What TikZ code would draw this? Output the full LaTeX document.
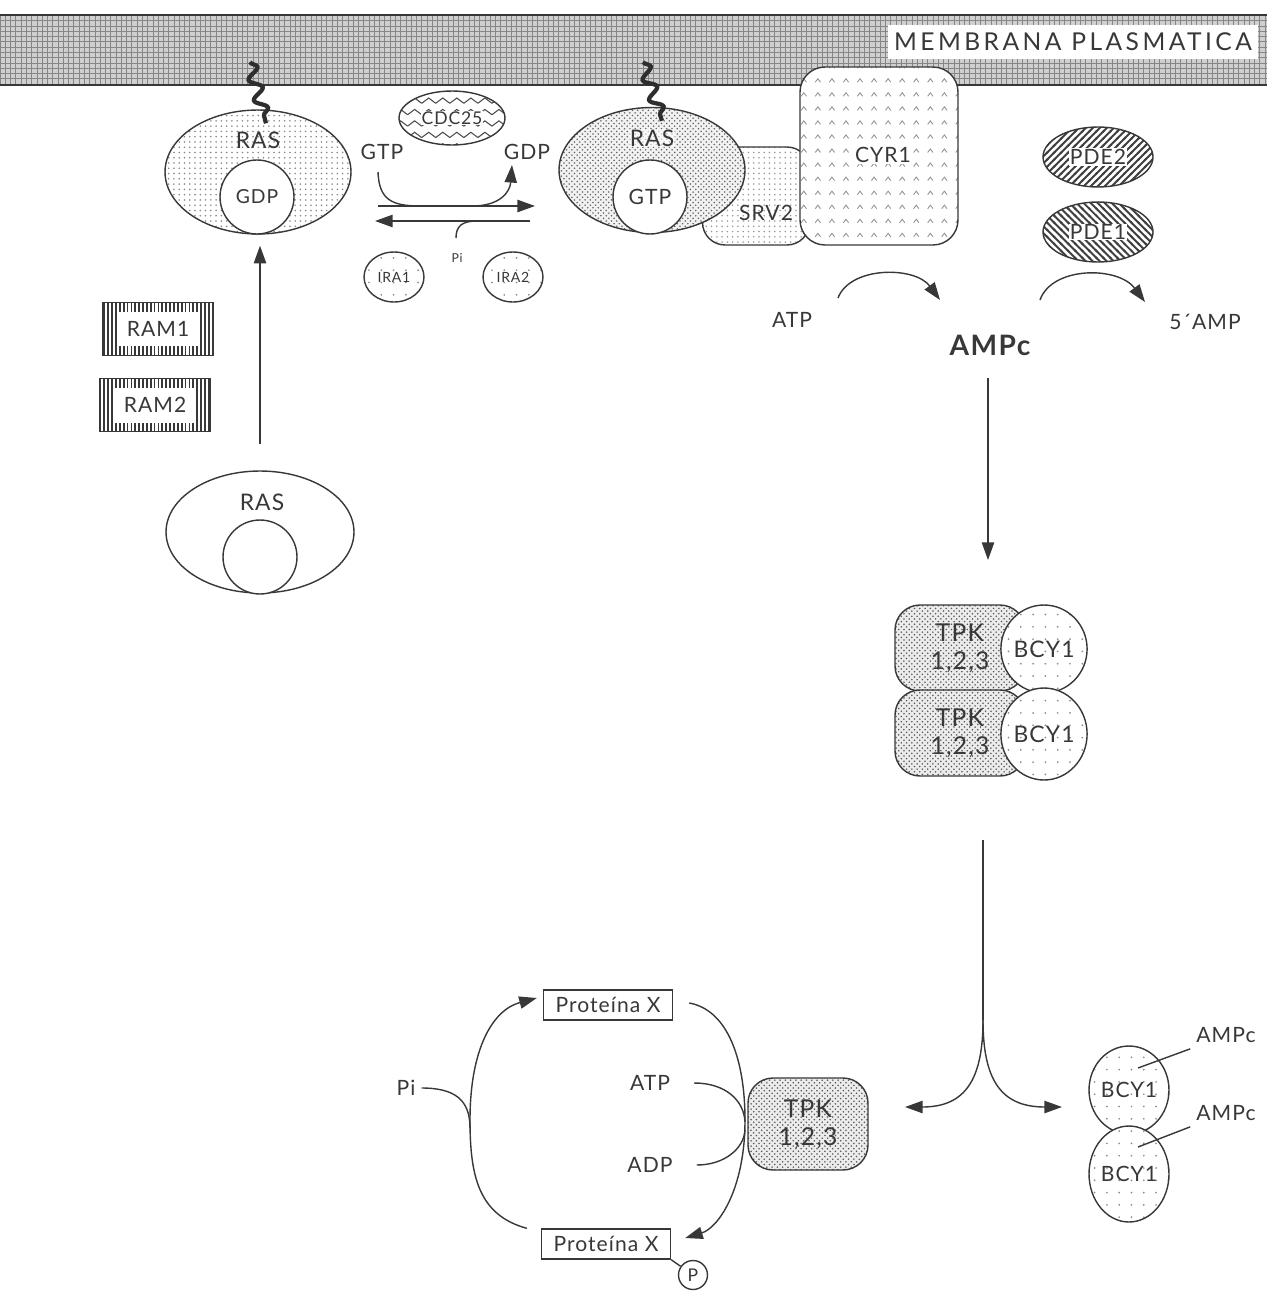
\documentclass[tikz,border=0pt]{standalone}
\usepackage{fontspec}
\setmainfont{Lato}[LetterSpace=5]
\newfontfamily\membfont{Lato}[LetterSpace=14]
\usetikzlibrary{shapes.geometric,arrows.meta,patterns,decorations.pathmorphing,calc}
\colorlet{ink}{black!78}
\pgfdeclarepatternformonly{sparse dots}{\pgfqpoint{-1pt}{-1pt}}{\pgfqpoint{1pt}{1pt}}{\pgfqpoint{7pt}{7pt}}{%
  \pgfpathcircle{\pgfqpoint{0pt}{0pt}}{0.55pt}\pgfusepath{fill}}
\pgfdeclarepatternformonly{carets}{\pgfqpoint{-0.5pt}{-0.5pt}}{\pgfqpoint{3.5pt}{2.5pt}}{\pgfqpoint{8pt}{8pt}}{%
  \pgfsetlinewidth{0.5pt}\pgfpathmoveto{\pgfqpoint{0pt}{0pt}}\pgfpathlineto{\pgfqpoint{1.5pt}{2pt}}%
  \pgfpathlineto{\pgfqpoint{3pt}{0pt}}\pgfusepath{stroke}}
\pgfdeclarepatternformonly{zigzag rows}{\pgfqpoint{-0.5pt}{-0.5pt}}{\pgfqpoint{8.5pt}{3.5pt}}{\pgfqpoint{8pt}{6.5pt}}{%
  \pgfsetlinewidth{0.6pt}\pgfpathmoveto{\pgfqpoint{0pt}{0pt}}\pgfpathlineto{\pgfqpoint{4pt}{3pt}}%
  \pgfpathlineto{\pgfqpoint{8pt}{0pt}}\pgfusepath{stroke}}
\pgfdeclarepatternformonly{hatch ne}{\pgfqpoint{-1pt}{-1pt}}{\pgfqpoint{5pt}{5pt}}{\pgfqpoint{4pt}{4pt}}{%
  \pgfsetlinewidth{1.1pt}\pgfpathmoveto{\pgfqpoint{-0.5pt}{-0.5pt}}\pgfpathlineto{\pgfqpoint{4.5pt}{4.5pt}}\pgfusepath{stroke}}
\pgfdeclarepatternformonly{hatch nw}{\pgfqpoint{-1pt}{-1pt}}{\pgfqpoint{5pt}{5pt}}{\pgfqpoint{4pt}{4pt}}{%
  \pgfsetlinewidth{1.1pt}\pgfpathmoveto{\pgfqpoint{-0.5pt}{4.5pt}}\pgfpathlineto{\pgfqpoint{4.5pt}{-0.5pt}}\pgfusepath{stroke}}
\pgfdeclarepatternformonly{vbars}{\pgfqpoint{-1pt}{-1pt}}{\pgfqpoint{1pt}{3pt}}{\pgfqpoint{2.2pt}{2pt}}{%
  \pgfsetlinewidth{1pt}\pgfpathmoveto{\pgfqpoint{0pt}{-0.5pt}}\pgfpathlineto{\pgfqpoint{0pt}{2.5pt}}\pgfusepath{stroke}}

\begin{document}
\begin{tikzpicture}[x=0.02cm, y=-0.02cm,
    every node/.style={text=ink},
    ln/.style={ink, line width=0.8pt},
    arr/.style={ink, line width=0.8pt, -{Triangle[length=10pt,width=7pt]}},
    fs/.style={font=\fontsize{#1}{#1}\selectfont},
    oval/.style={ellipse, draw=ink, line width=0.8pt, inner sep=0pt},
    box/.style={rectangle, draw=ink, line width=0.8pt, inner sep=0pt},
    core/.style={circle, draw=ink, line width=0.8pt, fill=white, inner sep=0pt, minimum size=1.48cm},
    tail/.style={line width=2.4pt, black!82, decorate, decoration={snake, amplitude=3.4pt, segment length=12pt}},
    tpk/.style={box, rounded corners=0.5cm, minimum width=2.6cm, minimum height=1.72cm, align=center,
        font=\fontsize{14}{16}\selectfont, preaction={fill=gray!15}, pattern=crosshatch dots, pattern color=black!65},
    bcy/.style={oval, minimum width=1.48cm, minimum height=1.76cm, fs=13,
        preaction={fill=white}, pattern=sparse dots, pattern color=gray!90},
    ram/.style={box, minimum width=2.22cm, minimum height=1.06cm, preaction={fill=white}, pattern=vbars, pattern color=ink},
    ramtext/.style={fill=white, minimum width=1.6cm, minimum height=0.7cm, inner sep=0pt, fs=12},
    prot/.style={box, minimum width=2.58cm, minimum height=0.6cm, fs=12}
]
\useasboundingbox (0,0) rectangle (1267,1291);

\path[preaction={fill=gray!38}, pattern=grid, pattern color=gray!95] (0,15) rectangle (1267,85);
\draw[ln] (0,15) -- (1267,15) (0,85) -- (1267,85);
\node[fill=white, minimum width=7.14cm, minimum height=0.7cm, font=\membfont\fontsize{14}{14}\selectfont] (memb) at (1073,42) {MEMBRANA PLASMATICA};

\node[oval, minimum width=3.72cm, minimum height=2.48cm, preaction={fill=white}, pattern=dots, pattern color=gray!95] (rasA) at (258,172) {};
\node[core, fs=11] (gdpA) at (257,197) {GDP};
\node[fs=13] (rasAlbl) at (258,140) {RAS};
\coordinate (anchA) at (250,62);
\draw[tail] (anchA) -- ($(rasA.north)+(8,14)$);

\node[oval, minimum width=2.12cm, minimum height=1.08cm, preaction={fill=white}, pattern=zigzag rows, pattern color=black!70] (cdc) at (452,118) {};
\node[fill=white, fs=10, inner sep=0.5pt] (cdclbl) at (cdc) {CDC25};

\node[fs=12] (gtpL) at (382,152) {GTP};
\node[fs=12] (gdpL) at (527,152) {GDP};
\coordinate (fwdA) at (378,206);
\coordinate (fwdB) at (535,206);
\coordinate (bckA) at (530,221);
\coordinate (bckB) at (375,221);
\coordinate (gtpIn) at (378,172);
\coordinate (gdpOut) at (512,165);
\coordinate (piIn) at (456,238);
\draw[arr] (fwdA) -- (fwdB);
\draw[arr] (bckA) -- (bckB);
\draw[ln] (gtpIn) .. controls (379,200) and (392,206) .. ($(fwdA)!0.27!(fwdB)$);
\draw[arr] ($(fwdA)!0.6!(fwdB)$) .. controls (500,206) and (510,192) .. (gdpOut);
\draw[ln] (piIn) .. controls (456,226) and (462,221) .. ($(bckA)!0.34!(bckB)$);
\node[fs=7] (piA) at (457,258) {Pi};
\node[oval, minimum width=1.2cm, minimum height=1.0cm, fs=8, preaction={fill=white}, pattern=sparse dots, pattern color=gray!90] (ira1) at (394,277) {IRA1};
\node[oval, minimum width=1.2cm, minimum height=1.0cm, fs=8, preaction={fill=white}, pattern=sparse dots, pattern color=gray!90] (ira2) at (513,277) {IRA2};

\node[box, rounded corners=0.45cm, minimum width=2.14cm, minimum height=1.96cm, preaction={fill=white}, pattern=dots, pattern color=gray!80] (srv) at (756,196) {};
\node[fs=12] (srvlbl) at (766,213) {SRV2};
\node[oval, minimum width=3.72cm, minimum height=2.5cm, preaction={fill=gray!10}, pattern=crosshatch dots, pattern color=black!60] (rasB) at (652,170) {};
\node[core, fs=12] (gtpB) at (650,197) {GTP};
\node[fill=white, fill opacity=0.6, text opacity=1, inner sep=0.5pt, fs=13] (rasBlbl) at (652,138) {RAS};
\coordinate (anchB) at (643,62);
\draw[tail] (anchB) -- ($(rasB.north)+(10,14)$);
\node[box, rounded corners=0.5cm, minimum width=3.16cm, minimum height=3.56cm, preaction={fill=white}, pattern=carets, pattern color=gray!85] (cyr) at (879,156) {};
\node[fill=white, fs=12, inner sep=1pt] (cyrlbl) at (883,155) {CYR1};

\node[oval, minimum width=2.2cm, minimum height=1.2cm, preaction={fill=white}, pattern=hatch ne, pattern color=black!75] (pde2) at (1098,157) {};
\node[fill=white, fs=12, inner sep=0.5pt] (pde2lbl) at (pde2) {PDE2};
\node[oval, minimum width=2.2cm, minimum height=1.2cm, preaction={fill=white}, pattern=hatch nw, pattern color=black!75] (pde1) at (1098,232) {};
\node[fill=white, fs=12, inner sep=0.5pt] (pde1lbl) at (pde1) {PDE1};

\node[fs=12] (atpA) at (792,320) {ATP};
\node[font=\bfseries\fontsize{16}{16}\selectfont] (ampc) at (990,345) {AMPc};
\node[fs=12] (amp5) at (1205,322) {5´AMP};
\coordinate (cyrIn) at (838,298);
\coordinate (cyrOut) at (940,300);
\coordinate (pdeIn) at (1040,300);
\coordinate (pdeOut) at (1145,302);
\draw[arr] (cyrIn) .. controls (850,266) and (915,266) .. (cyrOut);
\draw[arr] (pdeIn) .. controls (1052,266) and (1118,266) .. (pdeOut);
\coordinate (ampTop) at (988,378);
\coordinate (ampBot) at (988,560);
\draw[arr] (ampTop) -- (ampBot);

\node[ram] (ram1) at (158,329) {};
\node[ramtext] (ram1lbl) at (ram1) {RAM1};
\node[ram] (ram2) at (155,405) {};
\node[ramtext] (ram2lbl) at (ram2) {RAM2};

\node[oval, minimum width=3.76cm, minimum height=2.44cm, fill=white] (rasC) at (260,532) {};
\node[core] (holeC) at (260,557) {};
\node[fs=13] (rasClbl) at (262,502) {RAS};
\draw[arr, shorten <=0.52cm, shorten >=0.22cm] (rasC.north) -- (rasC.north |- rasA.south);

\node[tpk] (tpkA) at (960,648) {TPK\\1,2,3};
\node[tpk] (tpkB) at (960,733) {TPK\\1,2,3};
\node[bcy] (bcyA) at (1044,649) {BCY1};
\node[bcy, minimum height=1.84cm] (bcyB) at (1044,734) {BCY1};

\coordinate (splitTop) at (983,840);
\coordinate (split) at (983,1020);
\coordinate (toTpk) at (905,1107);
\coordinate (toBcy) at (1062,1107);
\draw[ln] (splitTop) -- (split);
\draw[arr] (split) .. controls (983,1080) and (965,1107) .. (toTpk);
\draw[arr] (split) .. controls (983,1080) and (1001,1107) .. (toBcy);

\node[bcy, minimum width=1.6cm, minimum height=1.76cm, fs=12] (bcyC) at (1129,1090) {BCY1};
\node[bcy, minimum width=1.6cm, minimum height=1.92cm, fs=12] (bcyD) at (1129,1174) {BCY1};
\node[fs=12] (ampC) at (1226,1035) {AMPc};
\node[fs=12] (ampD) at (1226,1113) {AMPc};
\coordinate (siteC) at (1138,1068);
\coordinate (siteD) at (1138,1147);
\draw[ln] (siteC) -- (ampC.south west);
\draw[ln] (siteD) -- (ampD.south west);

\node[tpk, minimum width=2.4cm, minimum height=1.84cm] (tpkC) at (808,1124) {TPK\\1,2,3};
\node[prot] (protA) at (608,1005) {Proteína X};
\node[prot] (protB) at (606,1244) {Proteína X};
\node[circle, draw=ink, line width=0.8pt, minimum size=0.58cm, inner sep=0pt, fs=10] (phos) at (693,1275) {P};
\draw[ln] (protB.south east) -- (phos);
\node[fs=12] (piB) at (406,1088) {Pi};
\node[fs=12] (atpB) at (650,1083) {ATP};
\node[fs=12] (adpB) at (650,1165) {ADP};
\draw[arr] ($(protB.north west)+(-14,0)$) .. controls (478,1215) and (470,1175) .. (470,1120)
    .. controls (470,1050) and (492,1010) .. ($(protA.west)+(-6,-7)$);
\draw[arr] ($(protA.east)+(16,-2)$) .. controls (728,1010) and (745,1060) .. (745,1120)
    .. controls (745,1190) and (718,1228) .. ($(protB.east)+(14,-6)$);
\draw[ln] (piB.east) .. controls (455,1088) and (470,1100) .. (470,1128);
\draw[ln] ($(atpB.east)+(18,0)$) .. controls (725,1083) and (744,1100) .. (745,1122);
\draw[ln] ($(adpB.east)+(18,0)$) .. controls (725,1165) and (744,1148) .. (745,1130);
\end{tikzpicture}
\end{document}
